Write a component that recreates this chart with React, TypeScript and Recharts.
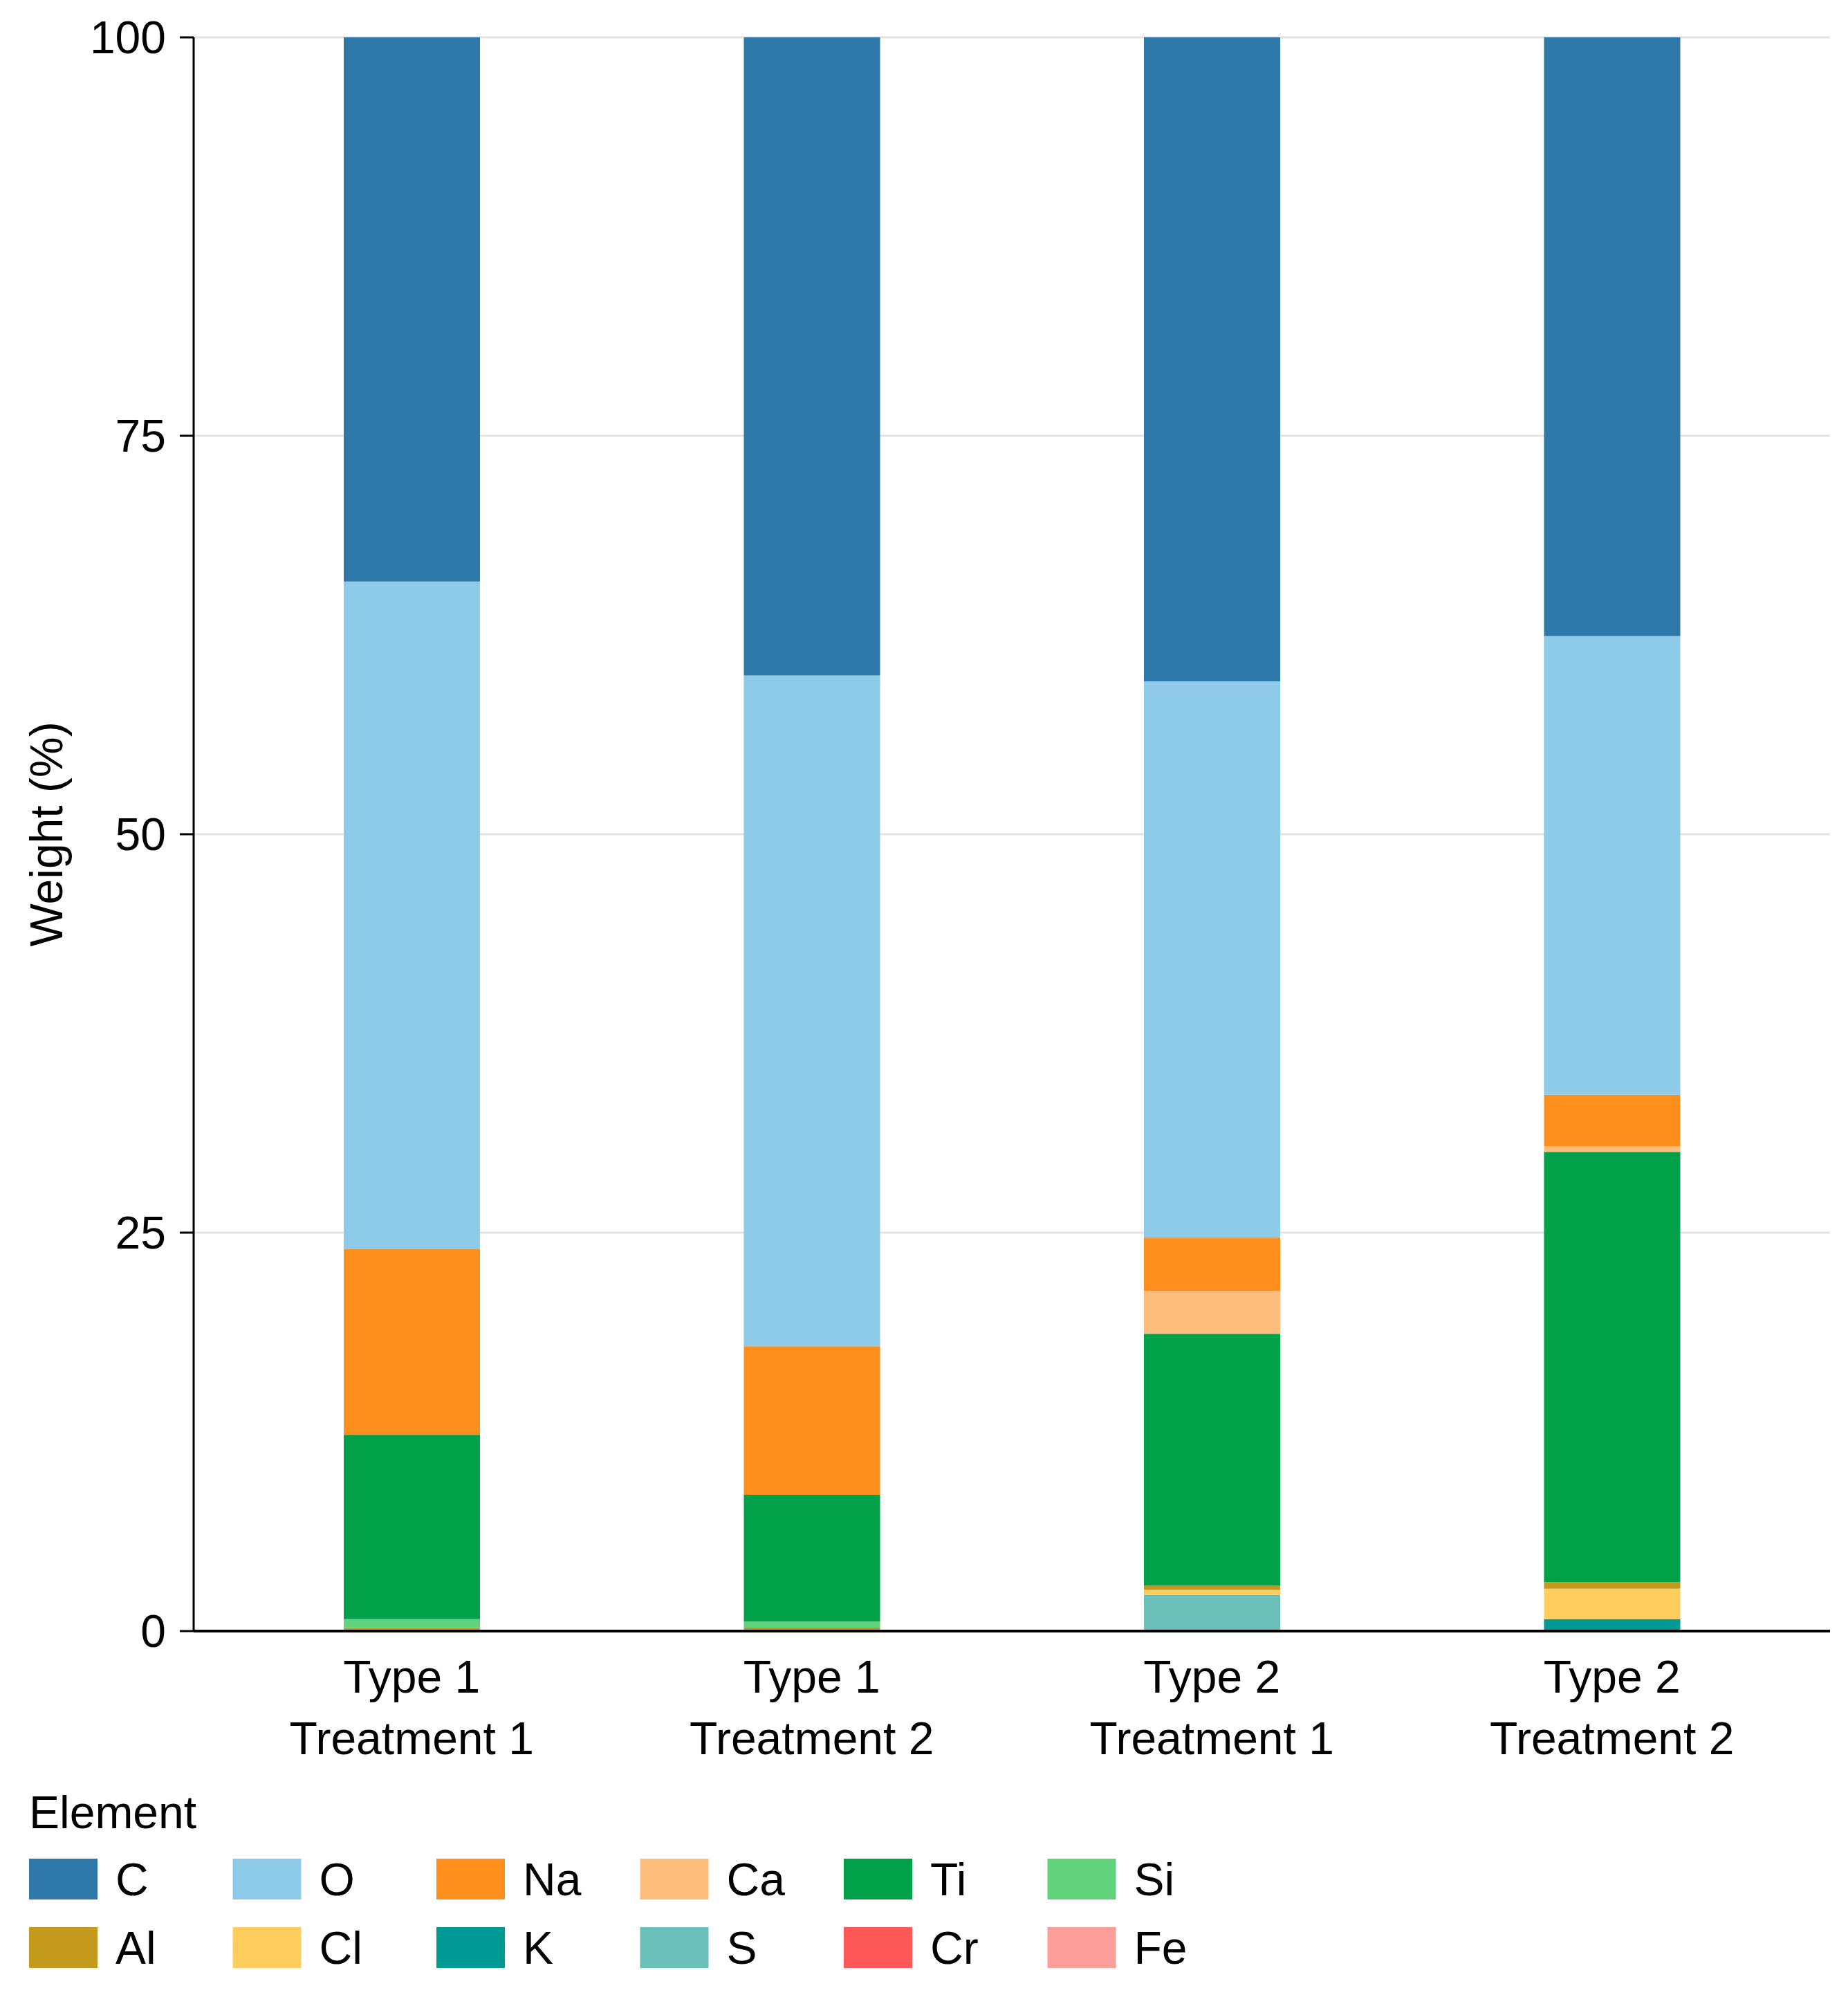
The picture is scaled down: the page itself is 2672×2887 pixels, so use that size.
import React from "react";
import { BarChart, Bar, XAxis, YAxis, CartesianGrid, Legend } from "recharts";

const FONT = "'Liberation Sans', Arial, sans-serif";

const typeLabels = ["Type 1", "Type 1", "Type 2", "Type 2"];
const treatmentLabels = ["Treatment 1", "Treatment 2", "Treatment 1", "Treatment 2"];

// weight % per sample
const C = [34.15, 40.04, 40.41, 37.57];
const O = [41.89, 42.09, 34.88, 28.78];
const Na = [11.64, 9.32, 3.38, 3.24];
const Ca = [0, 0, 2.68, 0.34];
const Ti = [11.57, 7.95, 15.8, 27.0];
const Si = [0.56, 0.38, 0, 0];
const Al = [0.19, 0.22, 0.27, 0.41];
const Cl = [0, 0, 0.31, 1.91];
const K = [0, 0, 0, 0.75];
const S = [0, 0, 2.27, 0];
const Cr = [0, 0, 0, 0];
const Fe = [0, 0, 0, 0];

const yTicks = [0, 25, 50, 75, 100];

// legend order (top of stack first)
const elements = [
  { key: "C", values: C, color: "#2E79A9" },
  { key: "O", values: O, color: "#8ECBE9" },
  { key: "Na", values: Na, color: "#FE8F1C" },
  { key: "Ca", values: Ca, color: "#FEBD7D" },
  { key: "Ti", values: Ti, color: "#00A149" },
  { key: "Si", values: Si, color: "#62D37D" },
  { key: "Al", values: Al, color: "#C39A1B" },
  { key: "Cl", values: Cl, color: "#FDCD5E" },
  { key: "K", values: K, color: "#009A95" },
  { key: "S", values: S, color: "#6ABFB9" },
  { key: "Cr", values: Cr, color: "#FE5858" },
  { key: "Fe", values: Fe, color: "#FE9E9B" },
];

const data = typeLabels.map((t, i) => {
  const row: Record<string, any> = { name: `${t}\n${treatmentLabels[i]}` };
  elements.forEach((e) => (row[e.key] = e.values[i]));
  return row;
});

function XTick({ x, y, payload }: any) {
  const [a, b] = String(payload.value).split("\n");
  return (
    <text x={x} y={y} textAnchor="middle" fontSize={66} fontFamily={FONT} fill="#000">
      <tspan x={x} dy={89}>{a}</tspan>
      <tspan x={x} dy={89}>{b}</tspan>
    </text>
  );
}

function YLabel({ viewBox }: any) {
  const cx = 90;
  const cy = viewBox.y + viewBox.height / 2;
  return (
    <text
      x={cx}
      y={cy}
      transform={`rotate(-90, ${cx}, ${cy})`}
      textAnchor="middle"
      fontSize={66}
      fontFamily={FONT}
      fill="#000"
    >
      Weight (%)
    </text>
  );
}

function ElementLegend() {
  return (
    <svg width={2672} height={327} style={{ display: "block" }}>
      <text x={42} y={83} fontSize={66} fontFamily={FONT} fill="#000">
        Element
      </text>
      {elements.map((e, i) => {
        const col = i % 6;
        const row = Math.floor(i / 6);
        const x = 42 + col * 294.5;
        const y = 127 + row * 99;
        return (
          <g key={e.key}>
            <rect x={x} y={y} width={99} height={59} fill={e.color} />
            <text x={x + 125} y={y + 53} fontSize={66} fontFamily={FONT} fill="#000">
              {e.key}
            </text>
          </g>
        );
      })}
    </svg>
  );
}

export default function App() {
  const stackOrder = [...elements].reverse();
  return (
    <div style={{ position: "absolute", left: 0, top: 0, width: 2672, height: 2887, background: "#fff" }}>
      <BarChart
        width={2672}
        height={2887}
        data={data}
        margin={{ top: 54, right: 26, bottom: 0, left: 0 }}
        barSize={197}
      >
        <CartesianGrid vertical={false} stroke="#e3e3e3" strokeWidth={3} />
        <XAxis
          dataKey="name"
          height={529}
          padding={{ left: 26, right: 26 }}
          axisLine={{ stroke: "#000", strokeWidth: 4 }}
          tickLine={false}
          tickSize={0}
          tickMargin={0}
          tick={<XTick />}
          interval={0}
        />
        <YAxis
          width={280}
          domain={[0, 100]}
          ticks={yTicks}
          allowDataOverflow
          axisLine={{ stroke: "#000", strokeWidth: 3 }}
          tickLine={{ stroke: "#000", strokeWidth: 3 }}
          tickSize={20}
          tickMargin={20}
          tick={{ fontSize: 66, fontFamily: FONT, fill: "#000" }}
          label={<YLabel />}
        />
        <Legend
          layout="horizontal"
          verticalAlign="middle"
          align="center"
          wrapperStyle={{ left: 0, top: 2560, width: 2672, height: 327 }}
          content={<ElementLegend />}
        />
        {stackOrder.map((e) => (
          <Bar key={e.key} dataKey={e.key} stackId="a" fill={e.color} isAnimationActive={false} />
        ))}
      </BarChart>
    </div>
  );
}
